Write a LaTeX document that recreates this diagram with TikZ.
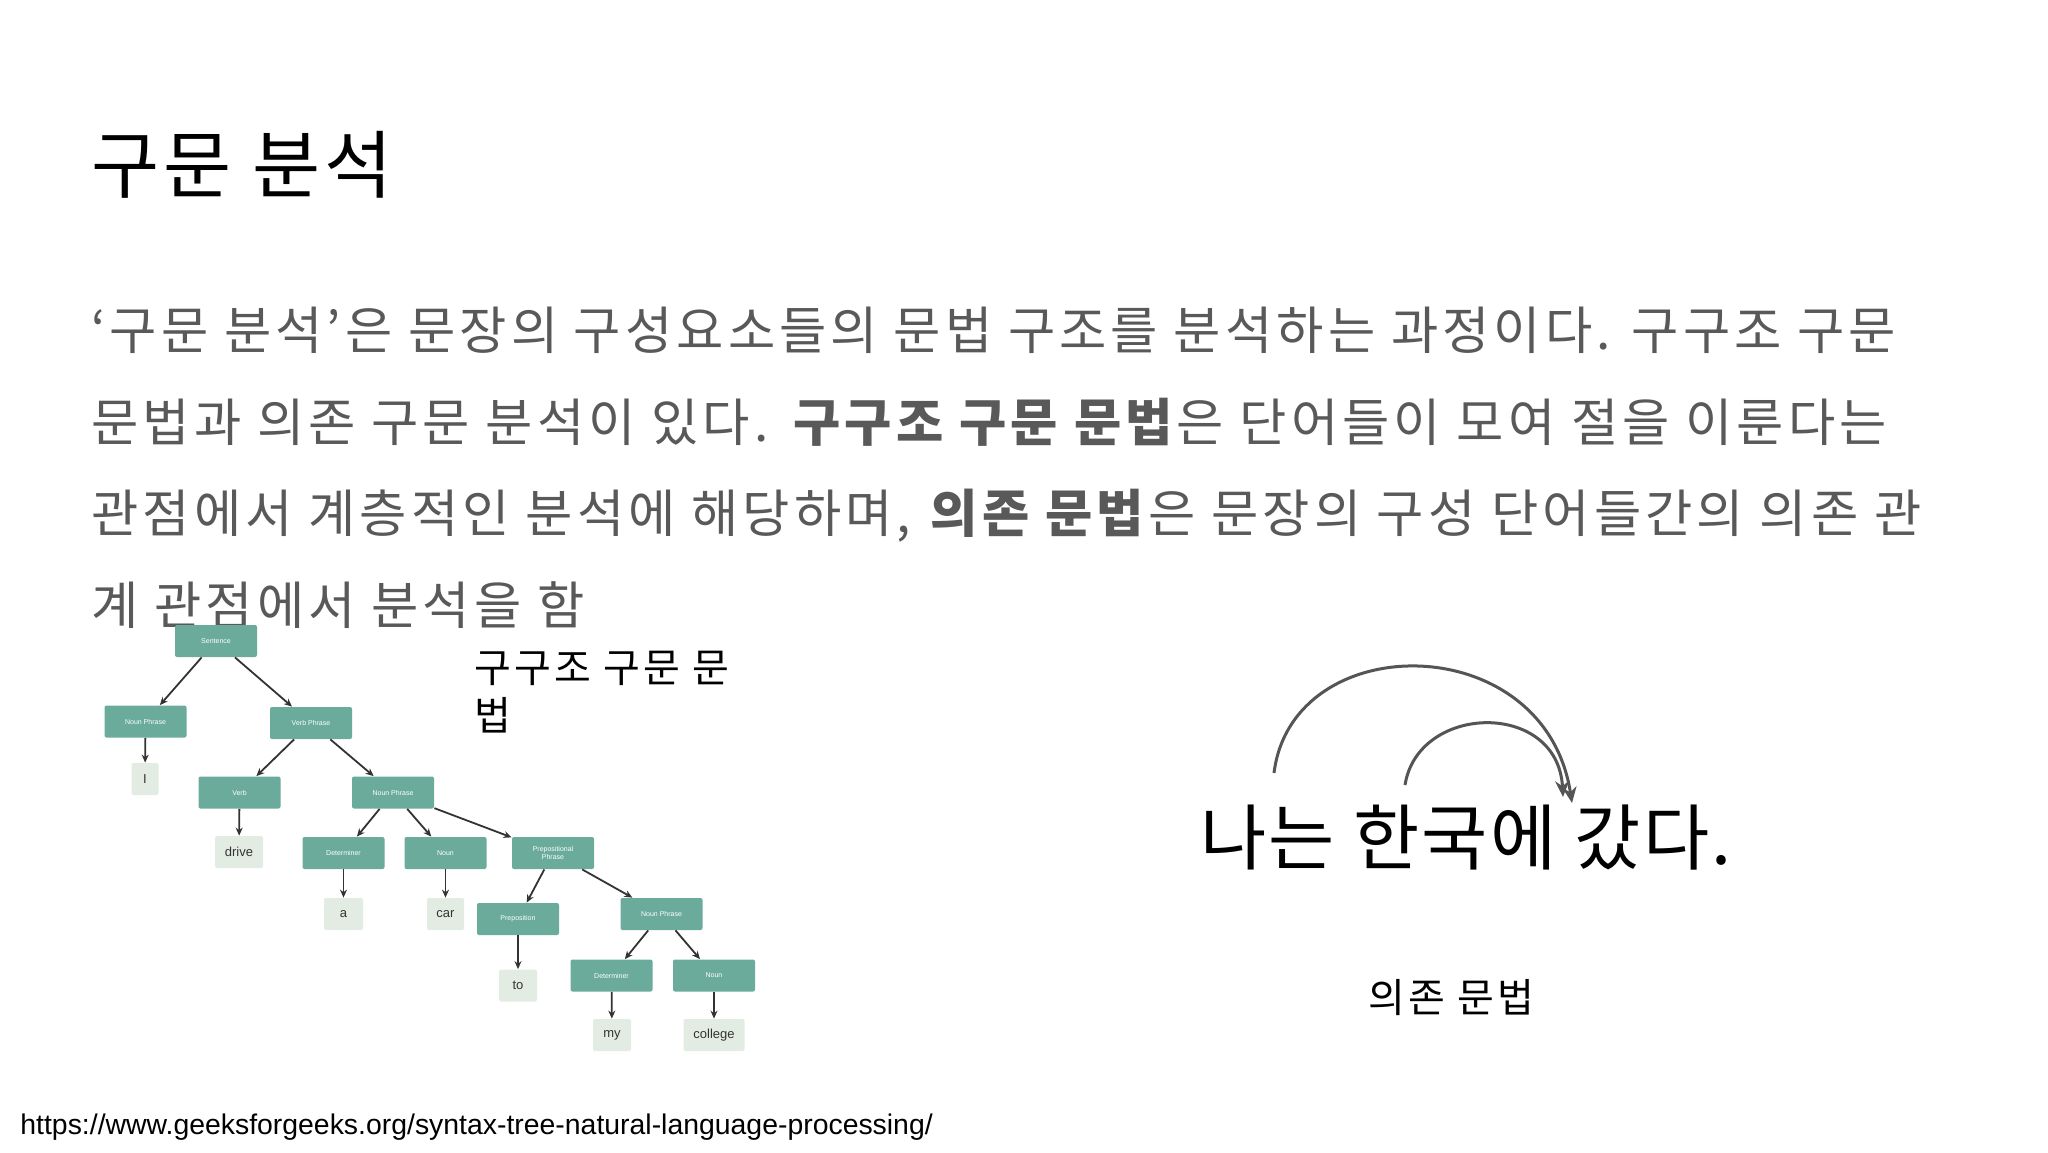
\documentclass[tikz,border=0pt]{standalone}
\usepackage{fontspec}
\setmainfont{Noto Sans CJK KR}
\newfontfamily\bodyfont[LetterSpace=8]{Noto Sans CJK KR}
\newfontfamily\titlefont[LetterSpace=5.5]{Noto Sans CJK KR}
\newfontfamily\sentfont[LetterSpace=3]{Noto Sans CJK KR}
\newfontfamily\labfont[LetterSpace=8]{Noto Sans CJK KR}
\newfontfamily\urlfont{Liberation Sans}
\usetikzlibrary{arrows.meta}
\definecolor{teal1}{HTML}{6AAB9C}
\definecolor{leafc}{HTML}{E3ECE3}
\definecolor{bodyc}{HTML}{595959}
\definecolor{arcc}{HTML}{555555}
\begin{document}
\begin{tikzpicture}[x=0.5pt,y=-0.5pt,
  tbox/.style={fill=teal1,rounded corners=1pt,minimum width=41pt,minimum height=16pt,inner sep=0pt,
    text=white,font=\urlfont\fontsize{3.5}{4}\selectfont,align=center},
  leaf/.style={fill=leafc,rounded corners=1pt,minimum height=16pt,inner xsep=3pt,inner ysep=0pt,
    text=black!80,font=\urlfont\fontsize{6.5}{7}\selectfont},
  tarr/.style={draw=black!80,line width=0.9pt,-{Stealth[length=4pt,width=3.5pt]}},
  dep/.style={draw=arcc,line width=1.5pt,-{Stealth[length=8pt,width=7pt]}},
  txt/.style={anchor=base west,inner sep=0pt}]
\path[use as bounding box,fill=white] (0,0) rectangle (2048,1152);
% title
\node[txt,font=\titlefont\fontsize{37}{40}\selectfont] (title) at (91,192) {구문 분석};
% body
\begin{scope}[every node/.style={txt,text=bodyc,font=\bodyfont\fontsize{25.7}{30}\selectfont}]
\node (l1) at (91,349) {‘구문 분석’은 문장의 구성요소들의 문법 구조를 분석하는 과정이다. 구구조 구문};
\node (l2) at (91,441) {문법과 의존 구문 분석이 있다. \textbf{구구조 구문 문법}은 단어들이 모여 절을 이룬다는};
\node (l3) at (91,532) {관점에서 계층적인 분석에 해당하며, \textbf{의존 문법}은 문장의 구성 단어들간의 의존 관};
\node (l4) at (91,624) {계 관점에서 분석을 함};
\end{scope}
% labels
\node[txt,font=\labfont\fontsize{20}{24}\selectfont] (lab1) at (474,682) {구구조 구문 문};
\node[txt,font=\labfont\fontsize{20}{24}\selectfont] (lab2) at (474,730) {법};
\node[txt,font=\labfont\fontsize{20}{24}\selectfont] (lab3) at (1368,1012) {의존 문법};
\node[txt,font=\urlfont\fontsize{14.2}{16}\selectfont] (url) at (20,1134) {https://www.geeksforgeeks.org/syntax-tree-natural-language-processing/};
% dependency sentence
\node[txt,font=\sentfont\fontsize{36}{40}\selectfont] (sent) at (1200,864) {나는 한국에 갔다.};
\coordinate (a1s) at (1274,773);
\coordinate (a1e) at (1572,803);
\coordinate (a2s) at (1405,785);
\coordinate (a2e) at (1563,797);
\draw[dep] (a1s) .. controls (1292,627) and (1545,627) .. (a1e);
\draw[dep] (a2s) .. controls (1418,703) and (1558,700) .. (a2e);
% tree
\node[tbox] (s) at (216,641) {Sentence};
\node[tbox] (np1) at (145.5,721.5) {Noun Phrase};
\node[tbox] (vp) at (311,723) {Verb Phrase};
\node[leaf,minimum width=13.5pt] (wI) at (145,779) {I};
\node[tbox] (v) at (239.5,792.5) {Verb};
\node[tbox] (np2) at (393,792.5) {Noun Phrase};
\node[leaf,minimum width=24pt] (wdrive) at (239,852) {drive};
\node[tbox] (det1) at (343.5,853) {Determiner};
\node[tbox] (n1) at (445.5,853) {Noun};
\node[tbox] (pp) at (553,853) {Prepositional\\Phrase};
\node[leaf,minimum width=19.5pt] (wa) at (343.5,914) {a};
\node[leaf,minimum width=18.5pt] (wcar) at (445.5,914) {car};
\node[tbox] (prep) at (518,919) {Preposition};
\node[tbox] (np3) at (661.5,914) {Noun Phrase};
\node[leaf,minimum width=19pt] (wto) at (518,985.5) {to};
\node[tbox] (det2) at (611.5,975.5) {Determiner};
\node[tbox] (n2) at (714,975.5) {Noun};
\node[leaf,minimum width=19pt] (wmy) at (612,1035) {my};
\node[leaf,minimum width=30.5pt] (wcol) at (714,1035) {college};
\draw[tarr] (s) -- (np1);
\draw[tarr] (s) -- (vp);
\draw[tarr] (np1) -- (wI);
\draw[tarr] (vp) -- (v);
\draw[tarr] (vp) -- (np2);
\draw[tarr] (v) -- (wdrive);
\draw[tarr] (np2) -- (det1);
\draw[tarr] (np2) -- (n1);
\draw[tarr] (np2) -- (pp);
\draw[tarr] (det1) -- (wa);
\draw[tarr] (n1) -- (wcar);
\draw[tarr] (pp) -- (prep);
\draw[tarr] (pp) -- (np3);
\draw[tarr] (prep) -- (wto);
\draw[tarr] (np3) -- (det2);
\draw[tarr] (np3) -- (n2);
\draw[tarr] (det2) -- (wmy);
\draw[tarr] (n2) -- (wcol);
\end{tikzpicture}
\end{document}
